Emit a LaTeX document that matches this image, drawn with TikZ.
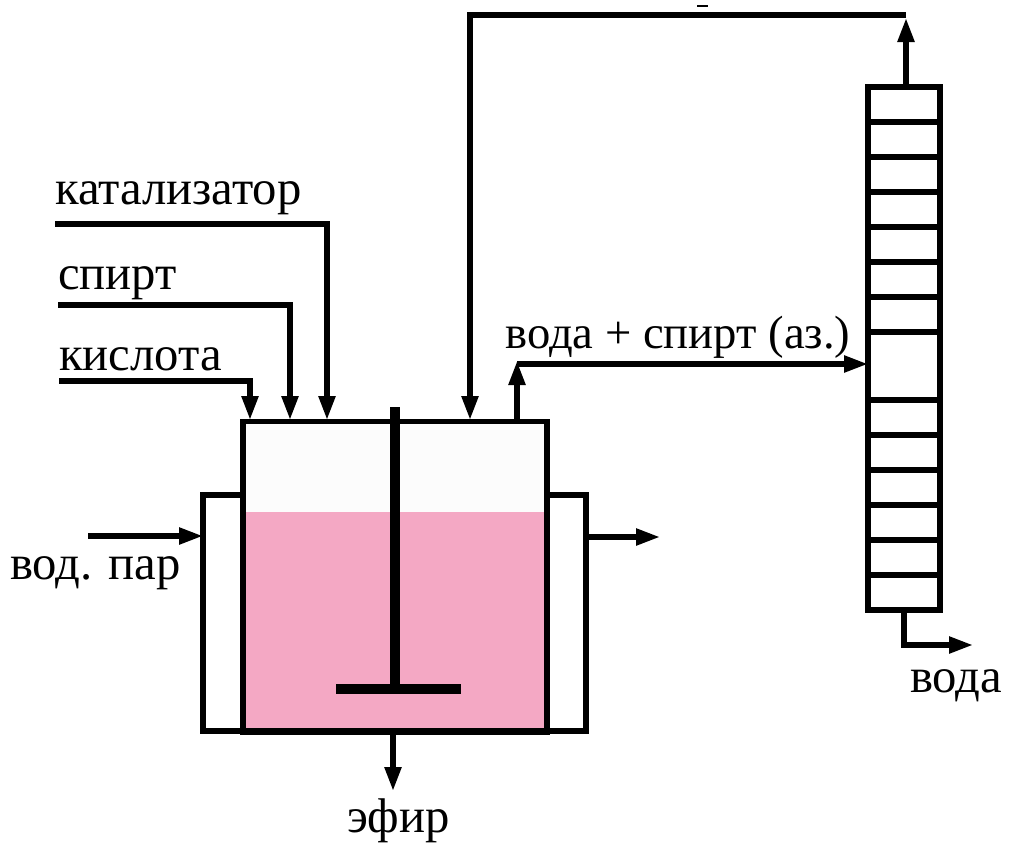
\documentclass[tikz,border=0pt]{standalone}
\usepackage{fontspec}
\setmainfont{Liberation Serif}
\usetikzlibrary{arrows.meta}
\definecolor{liquid}{RGB}{244,168,196}
\tikzset{
  pipe/.style = {line width=4pt, line join=miter},
  flow/.style = {pipe, -{Triangle[length=18pt, width=12pt]}},
  wall/.style = {line width=4pt},
  label/.style = {inner sep=0pt, anchor=base west, font=\fontsize{36.5}{36.5}\selectfont}
}
\begin{document}
\begin{tikzpicture}[x=0.75pt, y=-0.75pt]
\useasboundingbox (0,0) rectangle (1009,846);
% liquid
\fill[white!98!gray] (243,422) rectangle (547,512);
\fill[liquid] (243,512) rectangle (547,731);
% vessel and jacket
\coordinate (jl1) at (243,495);
\coordinate (jl2) at (203,495);
\coordinate (jl3) at (203,731);
\coordinate (jr1) at (547,495);
\coordinate (jr2) at (586,495);
\coordinate (jr3) at (586,731);
\draw[wall] (jl1) -- (jl2) -- (jl3) -- (jr3) -- (jr2) -- (jr1);
\node[draw, line width=4pt, minimum width=228pt, minimum height=233pt, inner sep=0pt] (vessel) at (395,576.5) {};
% stirrer
\coordinate (s1) at (394.5,407);
\coordinate (s2) at (394.5,689);
\coordinate (b1) at (336,689);
\coordinate (b2) at (461,689);
\draw[line width=7.5pt] (s1) -- (s2);
\draw[line width=8pt] (b1) -- (b2);
% column
\node[draw, line width=4.5pt, minimum width=54pt, minimum height=392pt, inner sep=0pt] (column) at (904,348.5) {};
\foreach \y in {122,157,192,227,262,297,332,400,435,470,505,540,575}
  \draw[wall] (868,\y) -- (940,\y);
% labels
\node[label] (kat) at (55,204) {катализатор};
\node[label] (spi) at (58,289) {спирт};
\node[label] (kis) at (59,370) {кислота};
\node[label] (par) at (10,579) {вод. пар};
\node[label, font=\fontsize{35}{35}\selectfont] (azo) at (505,348) {вода + спирт (аз.)};
\node[label] (vod) at (910,692) {вода};
\node[label] (efi) at (347,832) {эфир};
% feeds
\coordinate (k1) at (55,224);
\coordinate (k2) at (327,224);
\coordinate (k3) at (327,420);
\coordinate (c1) at (58,305);
\coordinate (c2) at (290,305);
\coordinate (c3) at (290,420);
\coordinate (a1) at (59,381);
\coordinate (a2) at (250,381);
\coordinate (a3) at (250,420);
\draw[flow] (k1) -- (k2) -- (k3);
\draw[flow] (c1) -- (c2) -- (c3);
\draw[flow] (a1) -- (a2) -- (a3);
% recycle
\coordinate (r1) at (906,86);
\coordinate (r2) at (906,15);
\coordinate (r3) at (470,15);
\coordinate (r4) at (470,420);
\coordinate (r5) at (906,18);
\draw[flow] (r1) -- (r5);
\draw[flow] (r2) -- (r3) -- (r4);
% vapour
\coordinate (o1) at (517,420);
\coordinate (o2) at (517,364);
\coordinate (o3) at (868,364);
\coordinate (o4) at (517,361);
\draw[flow] (o1) -- (o4);
\draw[flow] (o2) -- (o3);
% jacket lines
\coordinate (p1) at (88,536);
\coordinate (p2) at (203,536);
\coordinate (q1) at (586,537);
\coordinate (q2) at (660,537);
\draw[flow] (p1) -- (p2);
\draw[flow] (q1) -- (q2);
% bottoms
\coordinate (e1) at (393,731);
\coordinate (e2) at (393,791);
\coordinate (w1) at (904,610);
\coordinate (w2) at (904,645);
\coordinate (w3) at (973,645);
\draw[flow] (e1) -- (e2);
\draw[flow] (w1) -- (w2) -- (w3);
% mark above the recycle line
\coordinate (m1) at (697,5.5);
\coordinate (m2) at (708,5.5);
\draw[line width=1.5pt] (m1) -- (m2);
\end{tikzpicture}
\end{document}
